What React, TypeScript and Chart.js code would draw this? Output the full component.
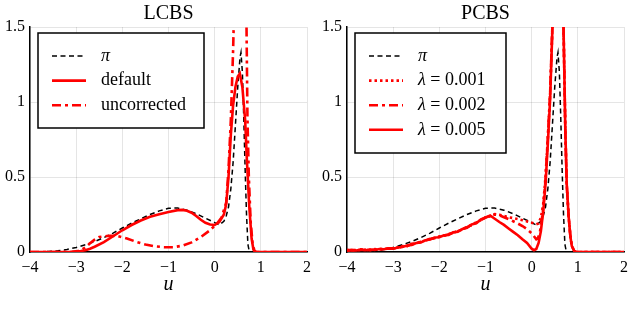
import React, { useEffect, useRef } from "react";
import { Chart, registerables } from "chart.js";
Chart.register(...registerables);

const FONT = "'Liberation Serif', 'Times New Roman', serif";

// ---- axes ----
const xTicks = [-4, -3, -2, -1, 0, 1, 2];
const xTickLabels = ["−4", "−3", "−2", "−1", "0", "1", "2"];
const yTicks = [0, 0.5, 1, 1.5];
const yTickLabels = ["0", "0.5", "1", "1.5"];
const panelTitles = ["LCBS", "PCBS"];
const xAxisLabel = "u";

// ---- target density pi (both panels) ----
const piX = [-4, -3.6, -3.4, -3.2, -3.0, -2.8, -2.6, -2.4, -2.2, -2.0, -1.8, -1.6, -1.4, -1.2, -1.0, -0.8, -0.6, -0.4, -0.2, 0.0, 0.1, 0.2, 0.25, 0.3, 0.35, 0.4, 0.45, 0.5, 0.55, 0.57, 0.6, 0.63, 0.66, 0.69, 0.72, 0.75, 0.8, 2.0];
const piY = [0, 0.003, 0.008, 0.017, 0.03, 0.048, 0.07, 0.096, 0.126, 0.16, 0.192, 0.222, 0.25, 0.274, 0.292, 0.293, 0.279, 0.255, 0.226, 0.196, 0.18, 0.205, 0.24, 0.3, 0.42, 0.6, 0.85, 1.1, 1.3, 1.33, 1.2, 0.9, 0.55, 0.25, 0.05, 0.005, 0, 0];

// ---- LCBS ----
const lcbsLabels = ["π", "default", "uncorrected"];
const defaultX = [-4, -3.3, -3.1, -2.9, -2.8, -2.7, -2.6, -2.4, -2.2, -2.0, -1.8, -1.6, -1.4, -1.2, -1.0, -0.8, -0.7, -0.6, -0.5, -0.4, -0.3, -0.2, -0.1, 0.0, 0.1, 0.2, 0.25, 0.3, 0.35, 0.4, 0.45, 0.5, 0.545, 0.6, 0.66, 0.7, 0.75, 0.8, 0.84, 0.88, 2.0];
const defaultY = [0, 0, 0.002, 0.006, 0.012, 0.022, 0.035, 0.066, 0.105, 0.145, 0.18, 0.21, 0.235, 0.252, 0.267, 0.279, 0.281, 0.275, 0.262, 0.24, 0.215, 0.195, 0.183, 0.18, 0.2, 0.25, 0.32, 0.5, 0.78, 0.98, 1.1, 1.17, 1.19, 1.1, 0.88, 0.6, 0.3, 0.09, 0.015, 0, 0];
const uncorrX = [-4, -3.1, -3.0, -2.9, -2.8, -2.7, -2.6, -2.5, -2.3, -2.1, -1.9, -1.7, -1.5, -1.3, -1.1, -0.9, -0.7, -0.5, -0.3, -0.1, 0.05, 0.15, 0.25, 0.3, 0.35, 0.4, 0.45, 0.5, 0.55, 0.6, 0.66, 0.69, 0.71, 0.74, 0.78, 0.82, 0.86, 0.9, 2.0];
const uncorrY = [0, 0, 0.004, 0.012, 0.03, 0.058, 0.082, 0.1, 0.108, 0.107, 0.09, 0.068, 0.05, 0.038, 0.032, 0.032, 0.042, 0.064, 0.1, 0.145, 0.19, 0.23, 0.33, 0.55, 0.88, 1.35, 2.0, 2.6, 2.9, 2.7, 2.2, 1.5, 0.9, 0.5, 0.2, 0.06, 0.01, 0, 0];

// ---- PCBS ----
const pcbsLabels = ["π", "λ = 0.001", "λ = 0.002", "λ = 0.005"];
const leftGridX = [-4.0, -3.9, -3.8, -3.7, -3.6, -3.5, -3.4, -3.3, -3.2, -3.1, -3.0, -2.9, -2.8, -2.7, -2.6, -2.5, -2.4, -2.3, -2.2, -2.1, -2.0, -1.9, -1.8, -1.7, -1.6, -1.5, -1.4, -1.3, -1.2, -1.1, -1.0, -0.9];
const lam1X = [...leftGridX, -0.8, -0.7, -0.6, -0.5, -0.4, -0.3, -0.2, -0.1, 0.0, 0.1, 0.15, 0.2, 0.25, 0.3, 0.35, 0.4, 0.45, 0.5, 0.55, 0.6, 0.65, 0.69, 0.73, 0.76, 0.8, 0.84, 0.87, 0.92, 0.95, 2.0];
const lam1Y = [0.012, 0.009, 0.015, 0.011, 0.016, 0.014, 0.019, 0.016, 0.022, 0.021, 0.027, 0.029, 0.038, 0.041, 0.052, 0.057, 0.07, 0.075, 0.089, 0.092, 0.104, 0.108, 0.12, 0.126, 0.142, 0.149, 0.17, 0.178, 0.199, 0.212, 0.232, 0.238,
  0.252, 0.248, 0.24, 0.232, 0.226, 0.219, 0.212, 0.204, 0.195, 0.185, 0.19, 0.23, 0.32, 0.5, 0.76, 1.06, 1.5, 2.0, 2.3, 2.2, 1.9, 1.5, 0.8, 0.45, 0.24, 0.1, 0.04, 0.008, 0, 0];
const lam2X = [...leftGridX, -0.8, -0.7, -0.6, -0.5, -0.4, -0.3, -0.2, -0.1, 0.0, 0.05, 0.1, 0.13, 0.17, 0.2, 0.25, 0.3, 0.35, 0.4, 0.45, 0.5, 0.55, 0.6, 0.65, 0.69, 0.73, 0.76, 0.8, 0.84, 0.87, 0.92, 0.95, 2.0];
const lam2Y = [0.015, 0.011, 0.013, 0.018, 0.014, 0.012, 0.017, 0.021, 0.017, 0.025, 0.024, 0.027, 0.037, 0.039, 0.054, 0.055, 0.068, 0.077, 0.086, 0.094, 0.101, 0.109, 0.118, 0.128, 0.139, 0.152, 0.166, 0.18, 0.196, 0.214, 0.23, 0.241,
  0.25, 0.245, 0.232, 0.22, 0.205, 0.19, 0.173, 0.152, 0.125, 0.105, 0.085, 0.09, 0.12, 0.17, 0.29, 0.48, 0.76, 1.06, 1.52, 2.0, 2.3, 2.2, 1.9, 1.5, 0.8, 0.45, 0.24, 0.1, 0.04, 0.008, 0, 0];
const lam5X = [...leftGridX, -0.8, -0.7, -0.6, -0.5, -0.4, -0.3, -0.2, -0.1, 0.0, 0.05, 0.1, 0.15, 0.2, 0.25, 0.3, 0.35, 0.4, 0.45, 0.5, 0.55, 0.6, 0.65, 0.69, 0.73, 0.76, 0.8, 0.84, 0.87, 0.92, 0.95, 2.0];
const lam5Y = [0.008, 0.014, 0.01, 0.016, 0.012, 0.017, 0.013, 0.02, 0.018, 0.024, 0.022, 0.03, 0.033, 0.043, 0.047, 0.06, 0.064, 0.079, 0.083, 0.097, 0.098, 0.112, 0.113, 0.131, 0.135, 0.153, 0.162, 0.184, 0.192, 0.217, 0.229, 0.243,
  0.222, 0.2, 0.181, 0.157, 0.134, 0.112, 0.085, 0.06, 0.022, 0.012, 0.02, 0.06, 0.14, 0.27, 0.45, 0.72, 1.02, 1.5, 2.0, 2.3, 2.2, 1.9, 1.5, 0.8, 0.45, 0.24, 0.1, 0.04, 0.008, 0, 0];

const RED = "#ff0000";

function pts(xs: number[], ys: number[]) {
  return xs.map((x, i) => ({ x, y: ys[i] }));
}

type Series = { label: string; xs: number[]; ys: number[]; color: string; width: number; dash: number[] };

function makeOverlay(title: string, series: Series[], box: { x: number; y: number; w: number; h: number }) {
  return {
    id: "overlay",
    afterDraw(chart: any) {
      const ctx: CanvasRenderingContext2D = chart.ctx;
      const ca = chart.chartArea;
      const cx = (ca.left + ca.right) / 2;
      ctx.save();
      ctx.fillStyle = "black";
      ctx.textAlign = "center";
      ctx.textBaseline = "alphabetic";
      ctx.font = `20px ${FONT}`;
      ctx.fillText(title, cx, 19);
      ctx.font = `italic 20px ${FONT}`;
      ctx.fillText(xAxisLabel, cx, 290);
      // legend
      ctx.fillStyle = "white";
      ctx.fillRect(box.x, box.y, box.w, box.h);
      ctx.strokeStyle = "black";
      ctx.lineWidth = 1.5;
      ctx.setLineDash([]);
      ctx.strokeRect(box.x, box.y, box.w, box.h);
      series.forEach((s, i) => {
        const ry = box.y + 23 + i * 24.6;
        ctx.beginPath();
        ctx.strokeStyle = s.color;
        ctx.lineWidth = s.width;
        ctx.setLineDash(s.dash);
        ctx.moveTo(box.x + 14, ry);
        ctx.lineTo(box.x + 48, ry);
        ctx.stroke();
        ctx.setLineDash([]);
        ctx.fillStyle = "black";
        ctx.textAlign = "left";
        ctx.textBaseline = "middle";
        const tx = box.x + 63;
        const first = s.label.charAt(0);
        if (first === "π" || first === "λ") {
          ctx.font = `italic 18px ${FONT}`;
          ctx.fillText(first, tx, ry);
          const w = ctx.measureText(first).width;
          ctx.font = `18px ${FONT}`;
          ctx.fillText(s.label.slice(1), tx + w, ry);
        } else {
          ctx.font = `18px ${FONT}`;
          ctx.fillText(s.label, tx, ry);
        }
      });
      ctx.restore();
    },
  };
}

function Panel({ title, series, box, rightPad }: { title: string; series: Series[]; box: any; rightPad: number }) {
  const ref = useRef<HTMLCanvasElement>(null);
  useEffect(() => {
    const n = series.length;
    const datasets = series.map((s, i) => ({
      label: s.label,
      data: pts(s.xs, s.ys),
      borderColor: s.color,
      backgroundColor: s.color,
      borderWidth: s.width,
      borderDash: s.dash,
      pointRadius: 0,
      fill: false,
      tension: 0,
      order: n - i,
    }));
    const tickFont = { family: FONT, size: 16 };
    const chart = new Chart(ref.current!, {
      type: "line",
      data: { datasets },
      options: {
        animation: false,
        responsive: false,
        maintainAspectRatio: false,
        layout: { padding: { left: 0, right: rightPad, top: 27, bottom: 0 } },
        plugins: { legend: { display: false }, title: { display: false }, tooltip: { enabled: false } },
        scales: {
          x: {
            type: "linear",
            min: -4,
            max: 2,
            afterBuildTicks: (s: any) => { s.ticks = xTicks.map((v) => ({ value: v })); },
            afterFit: (s: any) => { s.height = 65; },
            ticks: {
              font: tickFont,
              color: "black",
              padding: 6,
              maxRotation: 0,
              autoSkip: false,
              callback: (v: any) => xTickLabels[xTicks.indexOf(Number(v))],
            },
            grid: { color: "rgba(0,0,0,0.1)", lineWidth: 1, drawTicks: false },
            border: { display: true, color: "black", width: 1.5 },
          },
          y: {
            type: "linear",
            min: 0,
            max: 1.5,
            afterBuildTicks: (s: any) => { s.ticks = yTicks.map((v) => ({ value: v })); },
            afterFit: (s: any) => { s.width = 30; },
            ticks: {
              font: tickFont,
              color: "black",
              padding: 5,
              autoSkip: false,
              callback: (v: any) => yTickLabels[yTicks.indexOf(Number(v))],
            },
            grid: { color: "rgba(0,0,0,0.1)", lineWidth: 1, drawTicks: false },
            border: { display: true, color: "black", width: 1.5 },
          },
        },
      },
      plugins: [makeOverlay(title, series, box)],
    } as any);
    return () => chart.destroy();
  }, []);
  return <canvas ref={ref} width={317} height={317} style={{ width: 317, height: 317, display: "block" }} />;
}

export default function App() {
  const piSeries: Series = { label: lcbsLabels[0], xs: piX, ys: piY, color: "black", width: 1.5, dash: [5, 3.5] };
  const lcbs: Series[] = [
    piSeries,
    { label: lcbsLabels[1], xs: defaultX, ys: defaultY, color: RED, width: 2.6, dash: [] },
    { label: lcbsLabels[2], xs: uncorrX, ys: uncorrY, color: RED, width: 2.6, dash: [9, 4, 3, 4] },
  ];
  const pcbs: Series[] = [
    { ...piSeries, label: pcbsLabels[0] },
    { label: pcbsLabels[1], xs: lam1X, ys: lam1Y, color: RED, width: 2.6, dash: [2.5, 3] },
    { label: pcbsLabels[2], xs: lam2X, ys: lam2Y, color: RED, width: 2.6, dash: [9, 4, 3, 4] },
    { label: pcbsLabels[3], xs: lam5X, ys: lam5Y, color: RED, width: 2.6, dash: [] },
  ];
  return (
    <div style={{ position: "absolute", left: 0, top: 0, width: 634, height: 317, display: "flex", background: "white" }}>
      <Panel title={panelTitles[0]} series={lcbs} box={{ x: 38, y: 33, w: 166, h: 95 }} rightPad={8} />
      <Panel title={panelTitles[1]} series={pcbs} box={{ x: 38, y: 33, w: 151, h: 120 }} rightPad={9} />
    </div>
  );
}
